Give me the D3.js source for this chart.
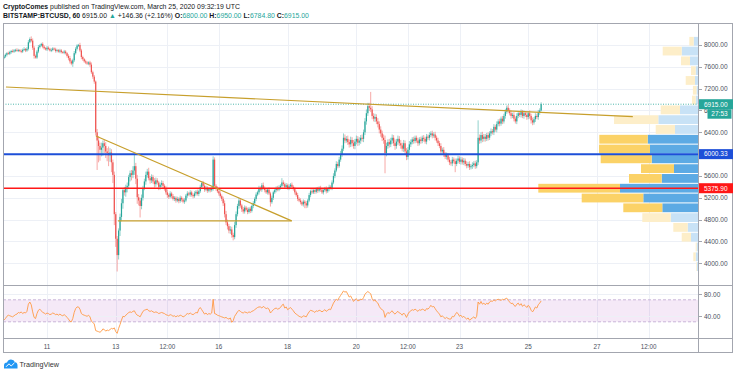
<!DOCTYPE html>
<html>
<head>
<meta charset="utf-8">
<script src="https://cdn.jsdelivr.net/npm/d3@7"></script>
<style>
  body { margin: 0; background: #fff; }
  svg { display: block; font-family: "Liberation Sans", Arial, sans-serif; }
  text { white-space: pre; }
</style>
</head>
<body>
<div id="chart"></div>
<script>
// BITSTAMP:BTCUSD hourly bars, first bar 2020-03-09 18:00 UTC, one bar per hour
var firstBar = "2020-03-09T18:00:00Z";
var firstOpen = 7760;
var closes = [
  7790,7820,7850,7840,7870,7890,7880,7900,7910,7895,7905,7890,7880,7910,7925,7900,7930,8050,8110,8080,7950,7800,7770,7880,
  7960,7990,8020,7970,7940,7920,7950,7930,7900,7910,7935,7920,7890,7905,7880,7900,7870,7860,7880,7850,7800,7760,7700,7660,
  7720,7850,7930,7990,8000,7900,7780,7740,7700,7680,7660,7680,7640,7500,7420,7330,6400,6250,6150,6080,6120,6200,6150,6050,
  6020,5980,6030,5850,5620,4900,4450,4150,4600,4850,5100,5340,5300,5390,5420,5580,5650,5620,5700,5780,5550,5210,5150,5050,
  5200,5380,5500,5620,5680,5560,5520,5580,5500,5450,5520,5480,5400,5440,5470,5420,5380,5300,5250,5220,5280,5230,5180,5200,
  5150,5180,5140,5200,5170,5130,5150,5240,5280,5260,5300,5250,5230,5280,5310,5270,5320,5400,5470,5420,5350,5380,5330,5360,
  5340,5370,5900,5420,5370,5320,5280,5230,5180,5100,4900,4750,4680,4600,4620,4520,4480,4700,4900,5050,5150,5060,4990,4950,
  5020,4980,4940,5000,4960,5050,5100,5180,5260,5300,5380,5350,5430,5380,5340,5300,5350,5280,5120,5200,5300,5340,5380,5350,
  5390,5420,5480,5450,5400,5430,5380,5410,5440,5400,5360,5300,5250,5180,5150,5120,5080,5130,5100,5060,5150,5250,5320,5300,
  5340,5310,5360,5330,5380,5350,5300,5340,5370,5320,5360,5400,5380,5480,5600,5700,5820,5780,5900,6000,6100,6300,6250,6280,
  6220,6180,6260,6200,6150,6230,6280,6210,6250,6300,6280,6400,6600,6750,6880,6850,6820,6700,6650,6680,6600,6550,6450,6380,
  6300,6260,6020,6150,6220,6180,6250,6300,6200,6150,6230,6280,6200,6160,6100,6200,6050,5950,6080,6180,6220,6270,6240,6300,
  6250,6200,6270,6240,6300,6280,6230,6320,6300,6350,6380,6340,6360,6300,6250,6200,6150,6050,6080,6000,5950,5980,5900,5850,
  5830,5900,5870,5820,5880,5920,5860,5900,5850,5880,5820,5790,5820,5760,5780,5800,5830,5780,5850,6300,6250,6350,6280,6320,
  6280,6350,6300,6380,6420,6400,6500,6450,6550,6600,6560,6650,6600,6700,6780,6850,6800,6750,6700,6720,6650,6600,6700,6750,
  6720,6770,6700,6750,6720,6680,6750,6700,6620,6580,6640,6700,6680,6760,6800,6915
];
// upper / lower shadow length of each bar, in USD
var wickHi = [
  30,25,20,30,25,20,30,25,20,30,25,20,30,25,35,20,30,40,30,48,40,30,25,30,
  40,25,20,30,25,20,30,25,20,30,25,20,30,25,20,30,25,20,30,25,20,30,40,30,
  30,40,30,25,20,40,30,25,20,30,25,20,30,40,30,30,20,60,80,60,90,50,60,70,
  60,120,80,60,50,60,40,50,40,60,80,40,60,50,60,40,50,60,80,230,60,70,60,50,
  60,40,50,60,50,70,40,50,40,60,50,40,30,40,50,40,30,40,50,30,40,30,40,30,
  30,40,30,40,30,30,40,30,40,30,40,30,30,40,30,40,30,40,30,40,30,40,30,30,
  30,40,60,40,30,40,30,40,30,40,50,60,50,40,60,50,40,60,50,40,50,40,30,40,
  40,30,40,30,40,30,40,30,40,30,40,30,40,50,30,40,30,40,30,40,30,40,30,40,
  40,30,80,40,30,40,30,40,30,40,30,40,30,40,30,40,30,40,30,40,30,40,30,40,
  30,40,30,40,30,40,30,40,30,40,30,40,30,40,50,40,50,40,50,60,60,80,60,50,
  60,50,60,50,60,50,60,50,60,50,60,50,60,70,60,60,290,60,50,60,50,60,50,60,
  50,60,80,60,50,60,50,60,50,70,50,60,50,60,50,60,50,60,50,60,50,40,50,40,
  40,50,40,50,40,50,40,50,40,50,40,50,40,50,40,50,40,50,40,50,40,50,40,50,
  40,50,40,50,40,50,40,50,40,50,40,50,40,50,40,50,40,50,40,320,60,50,60,50,
  50,40,50,40,50,40,50,40,50,40,50,40,50,40,50,40,50,40,50,40,50,40,50,40,
  40,50,40,50,40,50,40,50,40,50,40,50,40,50,40,35
];
var wickLo = [
  20,25,30,20,25,30,20,25,30,20,25,20,30,25,20,30,25,30,20,30,40,50,20,25,
  30,25,20,30,25,20,30,25,20,30,25,20,30,25,20,30,25,20,30,25,30,40,40,30,
  60,30,25,30,25,30,40,30,25,30,25,30,40,30,40,40,60,540,300,200,120,150,130,120,
  150,200,120,180,150,200,150,300,80,100,80,100,60,80,90,60,80,100,60,80,100,120,90,210,
  60,50,40,60,50,40,60,50,40,60,50,40,60,50,40,60,50,40,50,40,30,40,30,40,
  40,30,40,30,40,30,40,30,40,30,40,30,40,30,40,30,40,30,40,30,40,30,40,30,
  40,30,40,50,40,30,40,30,40,50,60,50,60,50,60,50,60,40,50,40,50,40,50,40,
  40,30,40,30,40,30,40,30,40,30,40,30,40,30,40,30,40,30,80,30,40,30,40,30,
  30,40,30,40,30,40,30,40,30,40,30,40,30,40,30,40,30,40,90,50,40,30,40,30,
  30,40,30,40,30,40,30,40,30,40,30,40,30,40,30,40,30,40,30,40,50,40,50,40,
  50,60,50,60,50,60,50,60,50,60,50,60,50,60,50,60,50,60,50,60,50,60,70,60,
  60,70,370,60,50,60,50,60,50,70,50,60,50,60,50,60,50,60,50,60,50,40,50,40,
  40,50,40,50,40,50,40,50,40,50,40,50,40,50,40,50,40,50,40,50,40,50,40,50,
  40,50,40,150,40,50,40,50,40,50,40,50,40,50,40,50,40,50,40,50,60,50,60,50,
  50,40,50,40,50,40,50,40,50,40,50,40,50,40,50,40,50,40,50,40,50,40,50,40,
  40,50,40,50,40,50,40,50,60,50,40,50,40,50,40,15.2
];
// RSI(14), one value per bar
var rsi = [
  33,36,40,42,41,40,39,41,43,44,47,46,48,45,47,46,49,62,66,61,48,38,36,45,
  51,53,50,47,46,44,46,45,43,44,46,45,43,44,42,44,42,41,43,41,38,35,31,30,
  36,47,54,57,57,53,45,43,42,41,40,42,39,31,29,26,14,13,12,11,13,17,16,13,
  15,14,16,18,17,19,12,9,18,25,33,40,39,42,44,47,48,47,49,50,45,42,41,39,
  44,49,51,52,53,50,49,50,48,47,48,47,45,46,47,46,45,43,42,41,43,42,40,41,
  39,41,40,42,41,39,40,43,45,44,46,44,43,45,47,46,53,56,52,48,44,46,43,45,
  44,46,71,45,44,42,41,40,39,38,37,38,36,35,37,29,32,40,44,48,51,49,47,46,
  48,47,46,48,47,49,50,52,54,56,57,57,55,58,56,54,55,53,46,49,52,54,55,53,
  54,56,60,62,55,57,52,54,56,53,50,46,44,42,40,39,38,41,40,39,44,48,51,50,
  49,47,50,49,51,50,48,50,52,49,51,53,52,58,64,68,71,69,74,78,82,86,84,85,
  80,75,77,72,67,70,72,68,69,71,70,74,80,83,85,83,81,72,68,70,66,64,58,54,
  52,50,38,44,47,45,48,50,46,44,47,49,46,45,42,46,43,38,44,48,50,52,51,53,
  51,49,52,51,53,52,50,54,53,56,60,57,58,54,50,47,44,39,41,38,36,38,36,35,
  35,40,39,43,47,45,40,42,38,40,37,35,37,33,35,37,39,36,40,66,62,67,62,64,
  61,64,62,66,68,67,70,68,70,71,70,69,71,70,72,73,69,66,63,64,60,58,62,64,
  60,63,58,61,59,56,60,57,51,48,52,57,55,61,64,68
];

// visible range volume profile, 24 rows from the bottom up
var profileLow = 3850, profileStep = 179.5;
var upVolume   = [50,115,65,350,515,1365,1785,2735,3900,1815,1200,2315,2400,2515,1150,1985,900,115,75,150,115,400,815,215];
var downVolume = [35,120,50,465,720,1420,1950,3080,4085,1635,1650,2550,2550,2420,965,2215,965,185,180,465,235,450,950,220];
var valueAreaRows = [6, 13];

// drawings
var trendLines = [
  { from: ["2020-03-09T19:20:00Z", 7230], to: ["2020-03-28T01:00:00Z", 6686] },
  { from: ["2020-03-12T10:10:00Z", 6333], to: ["2020-03-18T02:50:00Z", 4778] },
  { from: ["2020-03-13T01:30:00Z", 4778], to: ["2020-03-18T02:50:00Z", 4778] }
];
var levels = [
  { price: 6000.33, color: "#1d4fd8", width: 2 },
  { price: 5375.90, color: "#ff1717", width: 1.4 }
];

var priceTicks = [4000,4400,4800,5200,5600,6000,6400,6800,7200,7600,8000];
var rsiTicks = [40, 80];
var timeTicks = ["2020-03-11T00:00:00Z","2020-03-13T00:00:00Z","2020-03-14T12:00:00Z","2020-03-16T00:00:00Z",
  "2020-03-18T00:00:00Z","2020-03-20T00:00:00Z","2020-03-21T12:00:00Z","2020-03-23T00:00:00Z",
  "2020-03-25T00:00:00Z","2020-03-27T00:00:00Z","2020-03-28T12:00:00Z"];
var timeLabels = ["11","13","12:00","16","18","20","12:00","23","25","27","12:00"];

var last = { o: 6800.00, h: 6950.00, l: 6784.80, c: 6915.00, chg: 146.36, pct: 2.16 };
var countdown = "27:53";

// layout
var W = 736, H = 374;
var L = 3, PR = 698, FR = 733, T = 23, MB = 285, RB = 338, AB = 353;
var up = "#26a69a", dn = "#ef5350", txt = "#131722", axisTxt = "#4c525e", grid = "#edf0f6";

var svg = d3.select("#chart").append("svg").attr("width", W).attr("height", H);

var x = d3.scaleUtc()
  .domain([new Date("2020-03-11T00:00:00Z"), new Date("2020-03-27T00:00:00Z")])
  .range([47, 597]);
var y = d3.scaleLinear().domain([4000, 8000]).range([263.3, 45]);
var yr = d3.scaleLinear().domain([40, 80]).range([316.3, 294.3]);

var t0 = new Date(firstBar).getTime();
var bars = closes.map(function(c, i) {
  var o = i === 0 ? firstOpen : closes[i - 1];
  return {
    t: new Date(t0 + i * 3600e3), o: o, c: c,
    h: Math.max(o, c) + wickHi[i], l: Math.min(o, c) - wickLo[i], rsi: rsi[i]
  };
});

var defs = svg.append("defs");
defs.append("clipPath").attr("id", "clipMain").append("rect")
  .attr("x", L).attr("y", T).attr("width", PR - L).attr("height", MB - T);
defs.append("clipPath").attr("id", "clipRsi").append("rect")
  .attr("x", L).attr("y", MB).attr("width", PR - L).attr("height", RB - MB);

// header
var head = svg.append("g").attr("font-size", 6.9).attr("fill", txt);
var h1 = head.append("text").attr("x", 3).attr("y", 8.6);
h1.append("tspan").attr("font-weight", "bold").text("CryptoComes");
h1.append("tspan").text(" published on TradingView.com, March 25, 2020 09:32:19 UTC");
var h2 = head.append("text").attr("x", 3).attr("y", 18.4);
var f2 = function(v) { return v.toFixed(2); };
[
  ["BITSTAMP:BTCUSD, 60", txt, true], [" " + f2(last.c) + " ", txt], ["▲", up],
  [" +" + f2(last.chg) + " (+" + f2(last.pct) + "%) ", txt],
  ["O:", txt, true], [f2(last.o), up], [" H:", txt, true], [f2(last.h), up],
  [" L:", txt, true], [f2(last.l), up], [" C:", txt, true], [f2(last.c), up]
].forEach(function(s) {
  h2.append("tspan").attr("fill", s[1]).attr("font-weight", s[2] ? "bold" : null).text(s[0]);
});

// grid
var g = svg.append("g");
g.selectAll(".vg").data(timeTicks).enter().append("line")
  .attr("x1", function(d) { return Math.round(x(new Date(d))) + 0.5; })
  .attr("x2", function(d) { return Math.round(x(new Date(d))) + 0.5; })
  .attr("y1", T).attr("y2", RB).attr("stroke", grid);
g.selectAll(".hg").data(priceTicks).enter().append("line")
  .attr("x1", L).attr("x2", PR)
  .attr("y1", function(d) { return Math.round(y(d)) + 0.5; })
  .attr("y2", function(d) { return Math.round(y(d)) + 0.5; })
  .attr("stroke", grid);

// main pane
var main = svg.append("g").attr("clip-path", "url(#clipMain)");

// volume profile
var totals = upVolume.map(function(u, k) { return u + downVolume[k]; });
var vlen = d3.scaleLinear().domain([0, d3.max(totals)]).range([0, 159.7]);
var rows = upVolume.map(function(u, k) {
  var lo = profileLow + k * profileStep, hi = lo + profileStep;
  return { k: k, up: u, dn: downVolume[k], y0: y(hi), y1: y(lo),
    va: k >= valueAreaRows[0] && k <= valueAreaRows[1] };
});
var prof = main.append("g");
prof.selectAll(".pu").data(rows).enter().append("rect")
  .attr("x", function(d) { return PR - vlen(d.up); })
  .attr("width", function(d) { return vlen(d.up); })
  .attr("y", function(d) { return d.y0 + 0.5; })
  .attr("height", function(d) { return d.y1 - d.y0 - 1; })
  .attr("fill", function(d) { return d.va ? "#5caae4" : "#c8e2f6"; });
prof.selectAll(".pd").data(rows).enter().append("rect")
  .attr("x", function(d) { return PR - vlen(d.up) - vlen(d.dn); })
  .attr("width", function(d) { return vlen(d.dn); })
  .attr("y", function(d) { return d.y0 + 0.5; })
  .attr("height", function(d) { return d.y1 - d.y0 - 1; })
  .attr("fill", function(d) { return d.va ? "#fbd267" : "#fdeec9"; });

// candles
var cg = main.append("g");
cg.selectAll(".wick").data(bars).enter().append("line")
  .attr("x1", function(d) { return x(d.t); })
  .attr("x2", function(d) { return x(d.t); })
  .attr("y1", function(d) { return y(d.h); })
  .attr("y2", function(d) { return y(d.l); })
  .attr("stroke", function(d) { return d.c >= d.o ? up : dn; })
  .attr("stroke-opacity", 0.5).attr("stroke-width", 1);
cg.selectAll(".body").data(bars).enter().append("rect")
  .attr("x", function(d) { return x(d.t) - 0.6; })
  .attr("width", 1.2)
  .attr("y", function(d) { return y(Math.max(d.o, d.c)); })
  .attr("height", function(d) { return Math.max(0.8, Math.abs(y(d.o) - y(d.c))); })
  .attr("fill", function(d) { return d.c >= d.o ? up : dn; });

// last price line
main.append("line").attr("x1", L).attr("x2", PR)
  .attr("y1", y(last.c)).attr("y2", y(last.c))
  .attr("stroke", up).attr("stroke-width", 1).attr("stroke-dasharray", "1,1.5").attr("opacity", 0.8);

// levels and trend lines
main.selectAll(".lvl").data(levels).enter().append("line")
  .attr("x1", L).attr("x2", PR)
  .attr("y1", function(d) { return y(d.price); })
  .attr("y2", function(d) { return y(d.price); })
  .attr("stroke", function(d) { return d.color; })
  .attr("stroke-width", function(d) { return d.width; });
main.selectAll(".tl").data(trendLines).enter().append("line")
  .attr("x1", function(d) { return x(new Date(d.from[0])); })
  .attr("y1", function(d) { return y(d.from[1]); })
  .attr("x2", function(d) { return x(new Date(d.to[0])); })
  .attr("y2", function(d) { return y(d.to[1]); })
  .attr("stroke", "#c79f2c").attr("stroke-width", 1.2);

// RSI pane
var rp = svg.append("g").attr("clip-path", "url(#clipRsi)");
rp.append("rect").attr("x", L).attr("width", PR - L)
  .attr("y", yr(70)).attr("height", yr(30) - yr(70))
  .attr("fill", "#9c27b0").attr("fill-opacity", 0.1);
rp.selectAll(".rb").data([70, 30]).enter().append("line")
  .attr("x1", L).attr("x2", PR)
  .attr("y1", function(d) { return yr(d); }).attr("y2", function(d) { return yr(d); })
  .attr("stroke", "#c9b5d9").attr("stroke-dasharray", "3,2");
rp.selectAll(".rg").data(rsiTicks).enter().append("line")
  .attr("x1", L).attr("x2", PR)
  .attr("y1", function(d) { return Math.round(yr(d)) + 0.5; })
  .attr("y2", function(d) { return Math.round(yr(d)) + 0.5; })
  .attr("stroke", grid);
rp.append("path").datum(bars)
  .attr("d", d3.line().x(function(d) { return x(d.t); }).y(function(d) { return yr(d.rsi); }))
  .attr("fill", "none").attr("stroke", "#ff9a45").attr("stroke-width", 0.9);

// frame
var fr = svg.append("g").attr("stroke", "#a3a6af").attr("fill", "none");
fr.append("rect").attr("x", L + 0.5).attr("y", T + 0.5).attr("width", FR - L - 1).attr("height", AB - T - 1);
fr.append("line").attr("x1", L).attr("x2", FR).attr("y1", MB + 0.5).attr("y2", MB + 0.5);
fr.append("line").attr("x1", L).attr("x2", FR).attr("y1", RB + 0.5).attr("y2", RB + 0.5);
fr.append("line").attr("x1", PR + 0.5).attr("x2", PR + 0.5).attr("y1", T).attr("y2", AB);

// price axis
var pa = svg.append("g").attr("font-size", 6.5).attr("fill", axisTxt);
pa.selectAll(".pt").data(priceTicks).enter().append("line")
  .attr("x1", PR + 1).attr("x2", PR + 4)
  .attr("y1", function(d) { return Math.round(y(d)) + 0.5; })
  .attr("y2", function(d) { return Math.round(y(d)) + 0.5; })
  .attr("stroke", "#a3a6af");
pa.selectAll(".pl").data(priceTicks).enter().append("text")
  .attr("x", 704).attr("y", function(d) { return y(d) + 2.3; })
  .text(function(d) { return d.toFixed(2); });
pa.selectAll(".rl").data(rsiTicks).enter().append("text")
  .attr("x", 704).attr("y", function(d) { return yr(d) + 2.3; })
  .text(function(d) { return d.toFixed(2); });
pa.selectAll(".rt").data(rsiTicks).enter().append("line")
  .attr("x1", PR + 1).attr("x2", PR + 4)
  .attr("y1", function(d) { return Math.round(yr(d)) + 0.5; })
  .attr("y2", function(d) { return Math.round(yr(d)) + 0.5; })
  .attr("stroke", "#a3a6af");

// price labels
var tags = [
  { p: last.c, label: f2(last.c), fill: up },
  { p: levels[0].price, label: f2(levels[0].price), fill: levels[0].color },
  { p: levels[1].price, label: f2(levels[1].price), fill: levels[1].color }
];
var tg = svg.append("g").attr("font-size", 6.5);
tags.forEach(function(d) {
  var cy = y(d.p);
  tg.append("rect").attr("x", PR + 1).attr("y", cy - 5).attr("width", FR - PR - 1).attr("height", 10).attr("fill", d.fill);
  tg.append("text").attr("x", 704).attr("y", cy + 2.3).attr("fill", "#fff").text(d.label);
});
tg.append("rect").attr("x", 707.5).attr("y", y(last.c) + 5).attr("width", 24).attr("height", 9.5).attr("fill", up);
tg.append("text").attr("x", 719.5).attr("y", y(last.c) + 12.2).attr("text-anchor", "middle")
  .attr("fill", "#fff").text(countdown);

// time axis
var ta = svg.append("g").attr("font-size", 6.3).attr("fill", axisTxt).attr("text-anchor", "middle");
ta.selectAll("text").data(timeTicks).enter().append("text")
  .attr("x", function(d) { return x(new Date(d)); })
  .attr("y", 349)
  .text(function(d, i) { return timeLabels[i]; });

// TradingView logo
var logo = svg.append("g");
logo.append("path")
  .attr("d", "M4,368.5 L4,365.5 Q4,362.5 7,362.5 Q8,359.5 11,359.5 Q14,359.5 15,362.2 Q17.5,362.5 17.5,365.5 L17.5,368.5 Z")
  .attr("fill", "#2196f3");
logo.append("path").attr("d", "M6,366.8 L9,363.8 L11.2,366 L14.5,362.8")
  .attr("fill", "none").attr("stroke", "#fff").attr("stroke-width", 1);
logo.append("text").attr("x", 19.5).attr("y", 366.7).attr("font-size", 7.2).attr("fill", "#333").text("TradingView");
</script>
</body>
</html>
